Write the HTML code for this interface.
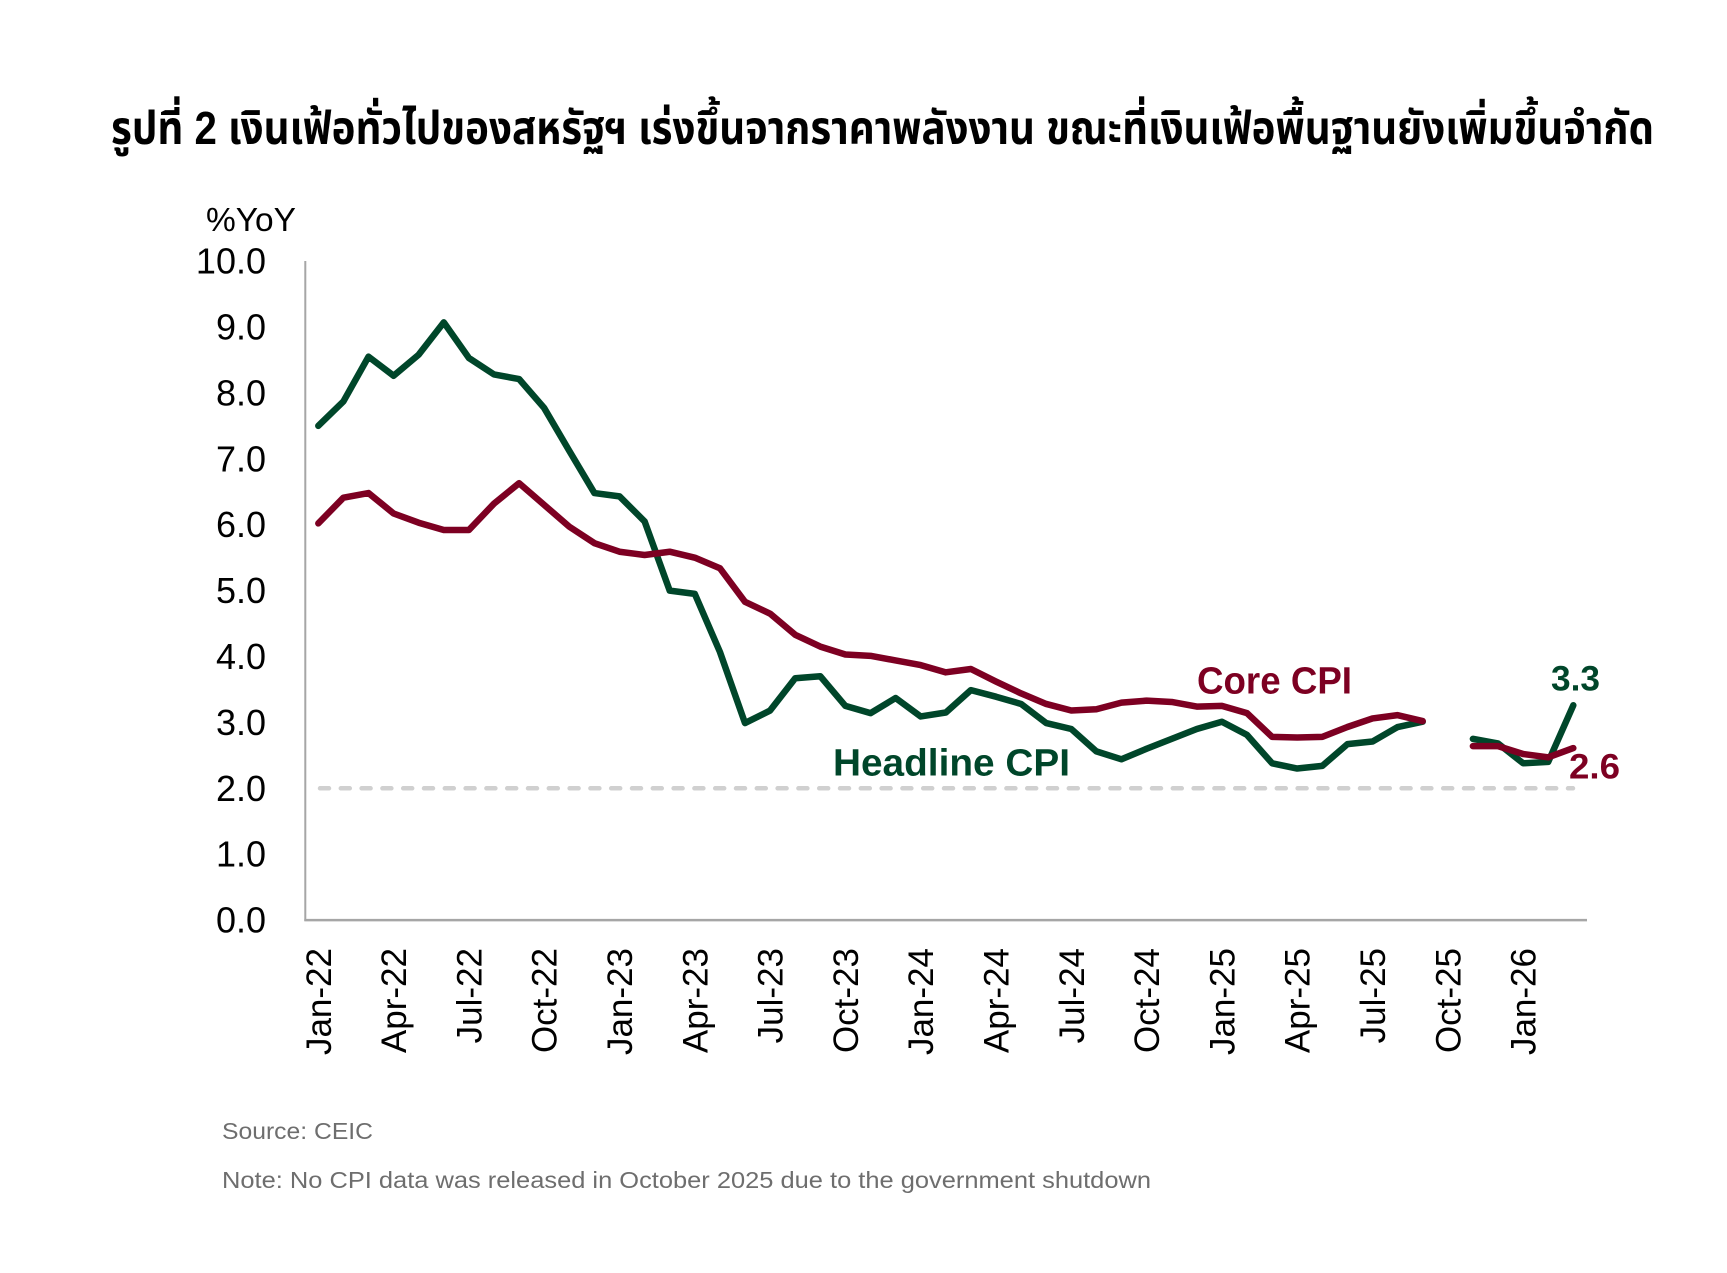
<!DOCTYPE html>
<html>
<head>
<meta charset="utf-8">
<style>
  html, body { margin: 0; padding: 0; background: #ffffff; }
  body { width: 1727px; height: 1273px; overflow: hidden; }
  svg { display: block; }
  .tick { font-family: "Liberation Sans", Arial, sans-serif; font-size: 35px; fill: #000; }
</style>
</head>
<body>
<svg width="1727" height="1273" viewBox="0 0 1727 1273" xmlns="http://www.w3.org/2000/svg">
  <rect width="1727" height="1273" fill="#ffffff"/>

  <!-- Title -->
  <text x="111" y="144" textLength="1543" lengthAdjust="spacingAndGlyphs"
        style="font-family: 'Liberation Sans', 'Noto Sans Thai', 'Noto Sans Thai UI', 'Tahoma', 'Loma', 'Garuda', 'Norasi', 'Kinnari', 'TlwgTypo', 'Umpush', 'Sawasdee', sans-serif; font-size: 46px; font-weight: bold; fill: #000;">รูปที่ 2 เงินเฟ้อทั่วไปของสหรัฐฯ เร่งขึ้นจากราคาพลังงาน ขณะที่เงินเฟ้อพื้นฐานยังเพิ่มขึ้นจำกัด</text>

  <!-- Y unit label -->
  <text x="206" y="231" textLength="90" lengthAdjust="spacingAndGlyphs" class="tick" style="font-size:33px;">%YoY</text>

  <!-- Y tick labels -->
  <g class="tick" text-anchor="end" style="font-size:36px;">
    <text x="266" y="273.6">10.0</text>
    <text x="266" y="339.5">9.0</text>
    <text x="266" y="405.4">8.0</text>
    <text x="266" y="471.3">7.0</text>
    <text x="266" y="537.2">6.0</text>
    <text x="266" y="603.1">5.0</text>
    <text x="266" y="669.0">4.0</text>
    <text x="266" y="734.9">3.0</text>
    <text x="266" y="800.8">2.0</text>
    <text x="266" y="866.7">1.0</text>
    <text x="266" y="932.6">0.0</text>
  </g>

  <!-- Axes -->
  <line x1="305.3" y1="261" x2="305.3" y2="921" stroke="#a6a6a6" stroke-width="2"/>
  <line x1="304.3" y1="920.1" x2="1587" y2="920.1" stroke="#a6a6a6" stroke-width="2.5"/>

  <!-- 2% target dashed line -->
  <line x1="320" y1="788.3" x2="1573" y2="788.3" stroke="#d0d0d0" stroke-width="4.5"
        stroke-linecap="round" stroke-dasharray="9 11.8"/>

  <!-- Series (data coords: x = month index, y = value) -->
  <g transform="translate(318.3,920.1) scale(25.1,-65.9)" fill="none" stroke-linejoin="round" stroke-linecap="round">
    <!-- Headline CPI -->
    <polyline vector-effect="non-scaling-stroke" stroke="#00462a" stroke-width="6.5"
      points="0,7.50 1,7.87 2,8.55 3,8.26 4,8.58 5,9.07 6,8.53 7,8.28 8,8.21 9,7.77 10,7.12 11,6.48 12,6.43 13,6.05 14,5.00 15,4.95 16,4.07 17,2.99 18,3.18 19,3.67 20,3.70 21,3.25 22,3.14 23,3.37 24,3.09 25,3.15 26,3.49 27,3.39 28,3.28 29,2.99 30,2.90 31,2.56 32,2.44 33,2.60 34,2.75 35,2.90 36,3.01 37,2.81 38,2.38 39,2.30 40,2.34 41,2.67 42,2.71 43,2.93 44,3.01"/>
    <polyline vector-effect="non-scaling-stroke" stroke="#00462a" stroke-width="6.5"
      points="46,2.75 47,2.68 48,2.38 49,2.40 50,3.26"/>
    <!-- Core CPI -->
    <polyline vector-effect="non-scaling-stroke" stroke="#7d0022" stroke-width="6.5"
      points="0,6.02 1,6.41 2,6.48 3,6.17 4,6.03 5,5.92 6,5.92 7,6.32 8,6.63 9,6.30 10,5.97 11,5.72 12,5.59 13,5.54 14,5.59 15,5.50 16,5.34 17,4.83 18,4.65 19,4.33 20,4.15 21,4.03 22,4.01 23,3.94 24,3.87 25,3.76 26,3.81 27,3.62 28,3.44 29,3.28 30,3.18 31,3.20 32,3.30 33,3.33 34,3.31 35,3.24 36,3.25 37,3.14 38,2.78 39,2.77 40,2.78 41,2.93 42,3.06 43,3.11 44,3.02"/>
    <polyline vector-effect="non-scaling-stroke" stroke="#7d0022" stroke-width="6.5"
      points="46,2.64 47,2.64 48,2.52 49,2.47 50,2.61"/>
  </g>

  <!-- Series labels -->
  <g style="font-family: 'Liberation Sans', Arial, sans-serif; font-weight: bold;">
    <text x="833" y="775.7" textLength="237" lengthAdjust="spacingAndGlyphs" fill="#00462a" style="font-size:38px;">Headline CPI</text>
    <text x="1197" y="693.3" textLength="155" lengthAdjust="spacingAndGlyphs" fill="#7d0022" style="font-size:38px;">Core CPI</text>
    <text x="1551" y="690.7" textLength="49" lengthAdjust="spacingAndGlyphs" fill="#00462a" style="font-size:35px;">3.3</text>
    <text x="1569" y="778.3" textLength="51" lengthAdjust="spacingAndGlyphs" fill="#7d0022" style="font-size:35px;">2.6</text>
  </g>

  <!-- X tick labels (rotated) -->
  <g class="tick" text-anchor="end">
    <text x="330.8" y="948" transform="rotate(-90 330.8 948)">Jan-22</text>
    <text x="406.1" y="948" transform="rotate(-90 406.1 948)">Apr-22</text>
    <text x="481.4" y="948" transform="rotate(-90 481.4 948)">Jul-22</text>
    <text x="556.7" y="948" transform="rotate(-90 556.7 948)">Oct-22</text>
    <text x="632.0" y="948" transform="rotate(-90 632.0 948)">Jan-23</text>
    <text x="707.3" y="948" transform="rotate(-90 707.3 948)">Apr-23</text>
    <text x="782.6" y="948" transform="rotate(-90 782.6 948)">Jul-23</text>
    <text x="857.9" y="948" transform="rotate(-90 857.9 948)">Oct-23</text>
    <text x="933.2" y="948" transform="rotate(-90 933.2 948)">Jan-24</text>
    <text x="1008.5" y="948" transform="rotate(-90 1008.5 948)">Apr-24</text>
    <text x="1083.8" y="948" transform="rotate(-90 1083.8 948)">Jul-24</text>
    <text x="1159.1" y="948" transform="rotate(-90 1159.1 948)">Oct-24</text>
    <text x="1234.4" y="948" transform="rotate(-90 1234.4 948)">Jan-25</text>
    <text x="1309.7" y="948" transform="rotate(-90 1309.7 948)">Apr-25</text>
    <text x="1385.0" y="948" transform="rotate(-90 1385.0 948)">Jul-25</text>
    <text x="1460.3" y="948" transform="rotate(-90 1460.3 948)">Oct-25</text>
    <text x="1535.6" y="948" transform="rotate(-90 1535.6 948)">Jan-26</text>
  </g>

  <!-- Footer -->
  <g style="font-family: 'Liberation Sans', Arial, sans-serif; font-size: 23px; fill: #6e6e6e;">
    <text x="222" y="1139" textLength="151" lengthAdjust="spacingAndGlyphs">Source: CEIC</text>
    <text x="222" y="1188" textLength="929" lengthAdjust="spacingAndGlyphs">Note: No CPI data was released in October 2025 due to the government shutdown</text>
  </g>
</svg>
</body>
</html>
